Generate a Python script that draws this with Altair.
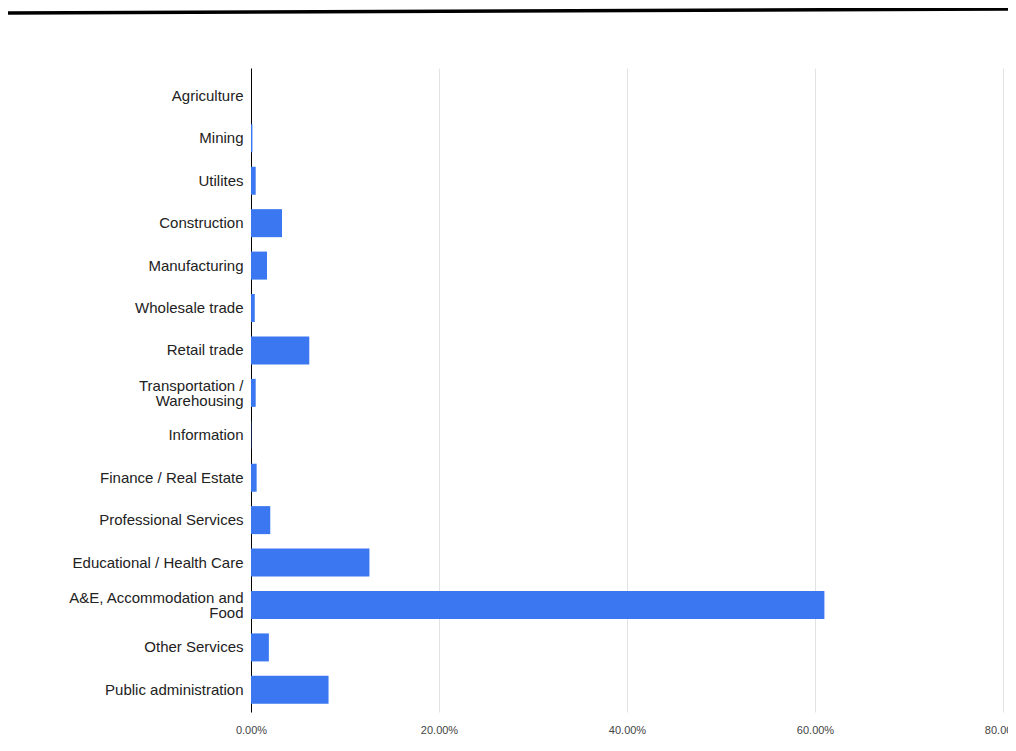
import altair as alt
import pandas as pd

categories = [
    "Agriculture", "Mining", "Utilites", "Construction", "Manufacturing",
    "Wholesale trade", "Retail trade", "Transportation / Warehousing",
    "Information", "Finance / Real Estate", "Professional Services",
    "Educational / Health Care", "A&E, Accommodation and Food",
    "Other Services", "Public administration",
]
shares = [0.0, 0.0015, 0.005, 0.033, 0.017, 0.004, 0.062, 0.005,
          0.0003, 0.006, 0.0205, 0.126, 0.61, 0.019, 0.0825]
x_ticks = [0.0, 0.2, 0.4, 0.6, 0.8]

df = pd.DataFrame({"industry": categories, "share": shares})

label_expr = (
    "datum.label == 'Transportation / Warehousing' ? ['Transportation /', 'Warehousing'] : "
    "datum.label == 'A&E, Accommodation and Food' ? ['A&E, Accommodation and', 'Food'] : datum.label"
)
two_line_test = (
    "datum.value == 'Transportation / Warehousing' || "
    "datum.value == 'A&E, Accommodation and Food'"
)

bars = alt.Chart(df).mark_bar(color="#3a77f0").encode(
    y=alt.Y(
        "industry:N",
        sort=categories,
        title=None,
        scale=alt.Scale(paddingInner=0.34, paddingOuter=0.26, align=0.63),
        axis=alt.Axis(
            labelExpr=label_expr,
            labelFont="Liberation Sans",
            labelFontSize=15,
            labelColor="#222222",
            labelPadding=8,
            labelOffset={"condition": {"test": two_line_test, "value": -7}, "value": 0},
            ticks=False,
            domain=True,
            domainColor="#000000",
            domainWidth=1,
            grid=False,
            labelLineHeight=15,
        ),
    ),
    x=alt.X(
        "share:Q",
        title=None,
        scale=alt.Scale(domain=[0, 0.8], nice=False),
        axis=alt.Axis(
            values=x_ticks,
            format=".2%",
            labelFont="Liberation Sans",
            labelFontSize=11,
            labelColor="#444444",
            labelPadding=12,
            ticks=False,
            domain=False,
            grid=True,
            gridColor="#e2e2e2",
            labelFlush=False,
        ),
    ),
)

top_line = alt.Chart(pd.DataFrame({"a": [0]})).mark_rule(
    color="#000000", strokeWidth=3.5
).encode(
    x=alt.value(-243), x2=alt.value(762),
    y=alt.value(-55), y2=alt.value(-59),
)

chart = alt.layer(bars, top_line).properties(
    width=752,
    height=644,
    background="#ffffff",
    autosize=alt.AutoSizeParams(type="none"),
    padding={"left": 243, "top": 60, "right": 5, "bottom": 30},
).configure_view(stroke=None)

chart.save("out.html", embed_options={"renderer": "svg", "actions": False})
